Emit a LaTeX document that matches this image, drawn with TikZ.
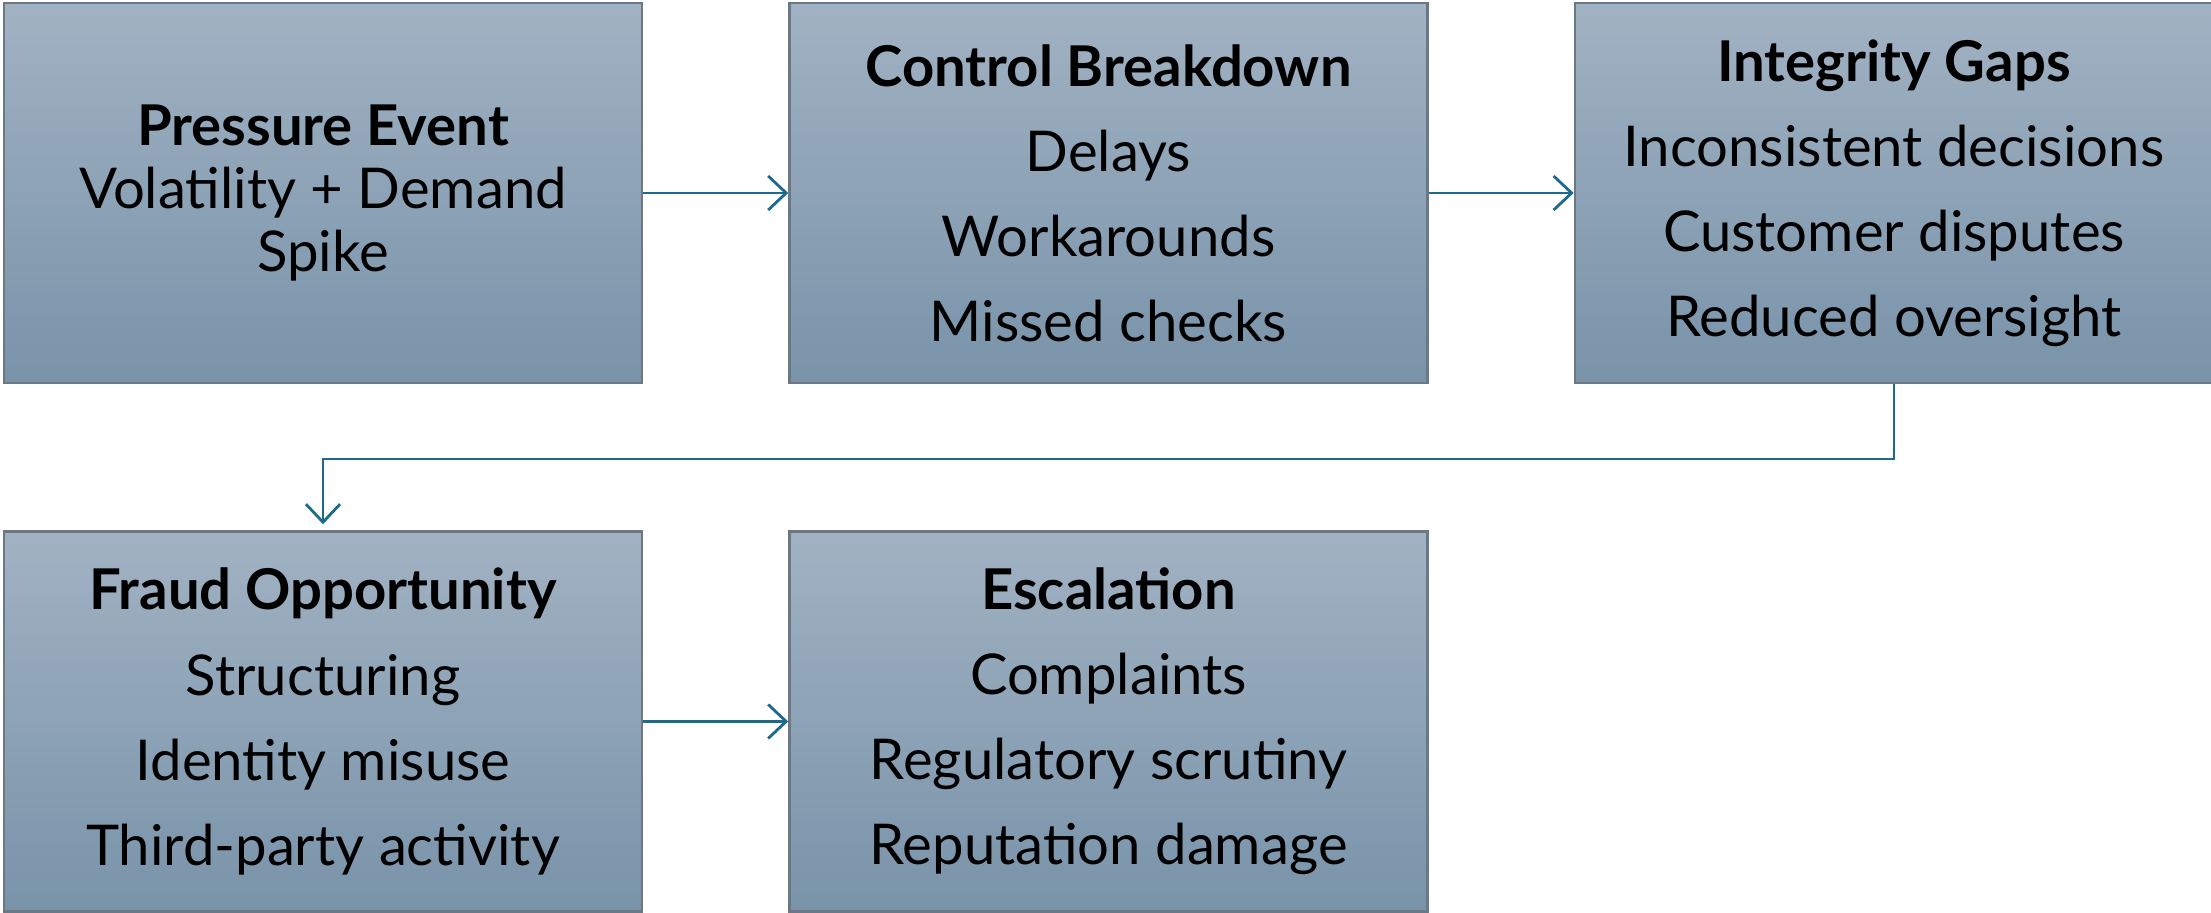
\documentclass[tikz,border=0pt]{standalone}
\usepackage{fontspec}
\setmainfont{Lato}
\usetikzlibrary{arrows.meta,positioning}
\definecolor{boxtop}{HTML}{A1B2C3}
\definecolor{boxbot}{HTML}{7993A9}
\definecolor{boxedge}{HTML}{6C7883}
\definecolor{flow}{HTML}{1E6A8C}
\tikzset{
  stage/.style={draw=boxedge,line width=0.7pt,top color=boxtop,bottom color=boxbot,
                minimum width=6.38cm,minimum height=3.8cm,inner sep=0pt,align=center,
                font=\fontsize{16}{24.2}\selectfont},
  link/.style={-{Straight Barb[length=1.8mm,width=3.4mm,line width=0.8pt]},line width=0.6pt,draw=flow},
}

\begin{document}
\begin{tikzpicture}
  \useasboundingbox (0,0) rectangle (22.11,-9.12);
  % top row
  \node[stage,font=\fontsize{16}{17.9}\selectfont] (pe) at (3.23,-1.93)
    {\textbf{Pressure Event}\\Volatility + Demand\\Spike};
  \node[stage,right=1.45cm of pe] (cb)
    {\textbf{Control Breakdown}\\Delays\\Workarounds\\Missed checks};
  \node[stage,right=1.45cm of cb] (ig)
    {\textbf{Integrity Gaps}\\Inconsistent decisions\\Customer disputes\\Reduced oversight};
  % bottom row
  \node[stage,below=1.46cm of pe] (fo)
    {\textbf{Fraud Opportunity}\\Structuring\\Identity misuse\\Third-party activity};
  \node[stage,right=1.45cm of fo] (es)
    {\textbf{Escalation}\\Complaints\\Regulatory scrutiny\\Reputation damage};
  % flow
  \draw[link] (pe) -- (cb);
  \draw[link] (cb) -- (ig);
  \draw[link,shorten >=0.06cm] (ig.south) -- ++(0,-0.75) -| (fo.north);
  \draw[link] (fo) -- (es);
\end{tikzpicture}
\end{document}
